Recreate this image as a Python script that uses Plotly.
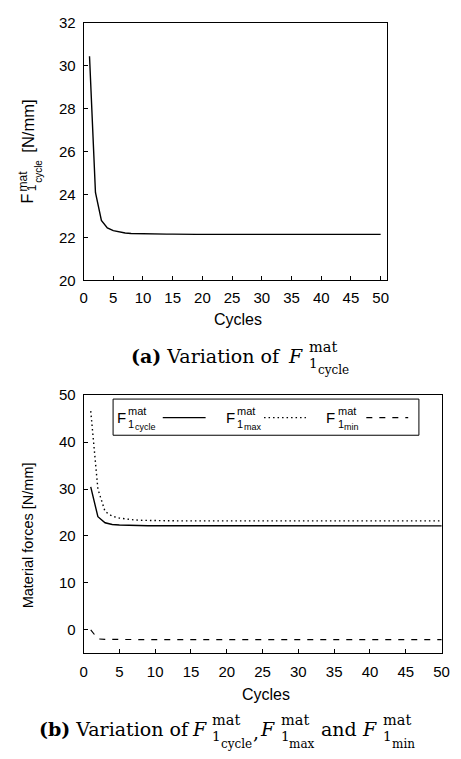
import plotly.graph_objects as go

# ---- data -------------------------------------------------------------
cycles = list(range(1, 51))

f1_cycle = [30.45, 24.10, 22.80, 22.45, 22.32, 22.25, 22.21, 22.19, 22.18, 22.17,
            22.17, 22.16, 22.16, 22.16, 22.16, 22.15, 22.15, 22.15, 22.15, 22.15,
            22.15, 22.15, 22.15, 22.15, 22.15, 22.15, 22.15, 22.15, 22.15, 22.15,
            22.15, 22.15, 22.15, 22.15, 22.15, 22.15, 22.15, 22.15, 22.15, 22.15,
            22.15, 22.15, 22.15, 22.15, 22.15, 22.15, 22.15, 22.15, 22.15, 22.15]

f1_max = [46.60, 30.00, 25.20, 24.20, 23.80, 23.55, 23.42, 23.33, 23.28, 23.25,
          23.23, 23.22, 23.21, 23.20, 23.20, 23.20, 23.20, 23.20, 23.20, 23.20,
          23.20, 23.20, 23.20, 23.20, 23.20, 23.20, 23.20, 23.20, 23.20, 23.20,
          23.20, 23.20, 23.20, 23.20, 23.20, 23.20, 23.20, 23.20, 23.20, 23.20,
          23.20, 23.20, 23.20, 23.20, 23.20, 23.20, 23.20, 23.20, 23.20, 23.20]

f1_min = [0.00, -1.95, -2.05, -2.08, -2.10, -2.10, -2.10, -2.10, -2.10, -2.10,
          -2.10, -2.10, -2.10, -2.10, -2.10, -2.10, -2.10, -2.10, -2.10, -2.10,
          -2.10, -2.10, -2.10, -2.10, -2.10, -2.10, -2.10, -2.10, -2.10, -2.10,
          -2.10, -2.10, -2.10, -2.10, -2.10, -2.10, -2.10, -2.10, -2.10, -2.10,
          -2.10, -2.10, -2.10, -2.10, -2.10, -2.10, -2.10, -2.10, -2.10, -2.10]

x_ticks = [0, 5, 10, 15, 20, 25, 30, 35, 40, 45, 50]
y_ticks_top = [20, 22, 24, 26, 28, 30, 32]
y_ticks_bottom = [0, 10, 20, 30, 40, 50]

# ---- page geometry ----------------------------------------------------
W, H = 461, 759
SANS = "Liberation Sans, Arial, sans-serif"
SERIF = "DejaVu Serif, serif"


def px(x):
    return x / W


def py(y):
    return 1 - y / H


fig = go.Figure()

solid = dict(color="black", width=1.4)
dotted = dict(color="black", width=1.4, dash="1.5px,3px")
dashed = dict(color="black", width=1.2, dash="6px,7px")

fig.add_trace(go.Scatter(x=cycles, y=f1_cycle, mode="lines", line=solid,
                         xaxis="x", yaxis="y", showlegend=False))
fig.add_trace(go.Scatter(x=cycles, y=f1_cycle, mode="lines", line=solid,
                         xaxis="x2", yaxis="y2", showlegend=False))
fig.add_trace(go.Scatter(x=cycles, y=f1_max, mode="lines", line=dotted,
                         xaxis="x2", yaxis="y2", showlegend=False))
fig.add_trace(go.Scatter(x=cycles, y=f1_min, mode="lines", line=dashed,
                         xaxis="x2", yaxis="y2", showlegend=False))

axis_common = dict(showgrid=False, zeroline=False, showline=True, linecolor="black",
                   linewidth=1, mirror=True, ticks="inside", ticklen=4,
                   tickcolor="black", tickwidth=1,
                   tickfont=dict(family=SANS, size=15, color="black"))

fig.update_layout(
    width=W, height=H, autosize=False,
    margin=dict(l=0, r=0, t=0, b=0),
    paper_bgcolor="white", plot_bgcolor="white",
    xaxis=dict(axis_common, domain=[px(81.7), px(393)], range=[0, 51.03],
               tickvals=x_ticks, anchor="y", ticklabelstandoff=4),
    yaxis=dict(axis_common, domain=[py(277.7), py(14.3)], range=[20, 32],
               tickvals=y_ticks_top, anchor="x", ticklabelstandoff=4),
    xaxis2=dict(axis_common, domain=[px(81.7), px(450)], range=[0, 50.1],
                tickvals=x_ticks, anchor="y2", ticklabelstandoff=5),
    yaxis2=dict(axis_common, domain=[py(659), py(395)], range=[-5, 50],
                tickvals=y_ticks_bottom, anchor="x2", ticklabelstandoff=4),
)

annotations = []


def txt(text, x, y, size, family=SANS, angle=0, xanchor="center"):
    annotations.append(dict(text=text, x=px(x), y=py(y), xref="paper", yref="paper",
                            xanchor=xanchor, yanchor="middle", showarrow=False,
                            textangle=angle, borderpad=0,
                            font=dict(family=family, size=size, color="black")))


def serif_f(x, y, sub):
    """Italic F with a stacked 'mat' superscript and a 1_<sub> subscript."""
    txt("<i>F</i>", x, y, 19, SERIF, xanchor="left")
    txt("mat", x + 21, y - 9.5, 14.5, SERIF, xanchor="left")
    txt("1", x + 21, y + 7, 13.5, SERIF, xanchor="left")
    txt(sub, x + 30, y + 14.5, 12, SERIF, xanchor="left")


# top panel y title: F^mat_{1_cycle} [N/mm]
txt("F", 24.5, 194, 16, angle=-90)
txt("mat", 20, 176, 12, angle=-90)
txt("1", 29, 183, 12, angle=-90)
txt("cycle", 35.5, 166, 10, angle=-90)
txt("[N/mm]", 25, 120, 16.5, angle=-90)

# axis titles
txt("Cycles", 240, 318, 16)
txt("Cycles", 269, 701, 16)
txt("Material forces [N/mm]", 25, 538, 14.5, angle=-90)

# caption (a)
txt("<b>(a)</b> Variation of", 129, 355, 19, SERIF, xanchor="left")
serif_f(291, 355, "cycle")

# caption (b)
txt("<b>(b)</b> Variation of", 35, 737, 19, SERIF, xanchor="left")
serif_f(192, 737, "cycle")
txt(",", 255, 740, 19, SERIF, xanchor="left")
serif_f(262, 737, "max")
txt("and", 324, 737, 19, SERIF, xanchor="left")
serif_f(367, 737, "min")

# legend entries of the lower panel: label first, line sample after it
legend_items = [
    (115, "cycle", 163, 207, solid),
    (227, "max", 267, 310, dotted),
    (330, "min", 372, 415, dashed),
]
shapes = [dict(type="rect", xref="paper", yref="paper",
               x0=px(112), x1=px(426), y0=py(436), y1=py(399),
               line=dict(color="black", width=1), fillcolor="white", layer="above")]
for x0, sub, lx0, lx1, style in legend_items:
    txt("F", x0, 417.5, 15, xanchor="left")
    txt("mat", x0 + 11.5, 411, 11, xanchor="left")
    txt("1", x0 + 11.5, 424, 11, xanchor="left")
    txt(sub, x0 + 18, 428, 9, xanchor="left")
    shapes.append(dict(type="line", xref="paper", yref="paper",
                       x0=px(lx0), x1=px(lx1), y0=py(418), y1=py(418),
                       line=style, layer="above"))

fig.update_layout(annotations=annotations, shapes=shapes)

fig.write_html("out.html")
